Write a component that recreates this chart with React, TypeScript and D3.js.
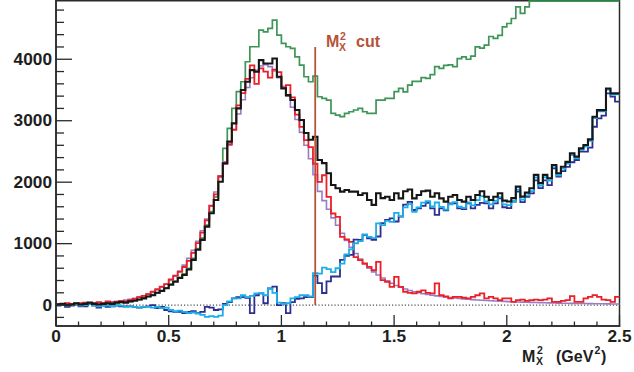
import React, { useMemo } from "react";
import * as d3 from "d3";

// histogram binning (0.02 GeV^2 bins from 0 to 2.5)
const binWidth = 0.02;
const xMin = 0;
const xMax = 2.5;
const yMin = -340;
const yMax = 4964;
const cutValue = 1.15;

const xTickLabels = ["0", "0.5", "1", "1.5", "2", "2.5"];
const yTickLabels = ["0", "1000", "2000", "3000", "4000"];

const blackHist = [
  10, 20, 0, 10, 30, 10, 20, 40, 20, 10,
  20, 30, 20, 40, 50, 40, 60, 70, 90, 110,
  140, 160, 200, 230, 273, 330, 380, 440, 490, 580,
  736, 900, 1061, 1277, 1495, 1711, 2008, 2307, 2659, 2957,
  3201, 3499, 3634, 3823, 3796, 3986, 3932, 3932, 4013, 3715,
  3526, 3417, 3336, 3174, 3011, 2800, 2690, 2740, 2361, 2310,
  2145, 1955, 1900, 1846, 1873, 1846, 1846, 1792, 1820, 1711,
  1630, 1820, 1740, 1764, 1710, 1820, 1737, 1853, 1880, 1737,
  1791, 1853, 1862, 1764, 1819, 1737, 1683, 1764, 1791, 1710,
  1683, 1764, 1710, 1791, 1853, 1764, 1710, 1764, 1819, 1700,
  1685, 1740, 1928, 1765, 1830, 1900, 2118, 1985, 2118, 2063,
  2280, 2145, 2250, 2330, 2470, 2415, 2550, 2605, 2697, 3065,
  3173, 3173, 3525, 3445, 3445,
];

const greenHist = [
  0, 20, 10, 20, 30, 20, 10, 30, 30, 20,
  30, 20, 30, 40, 40, 50, 60, 80, 90, 120,
  140, 170, 200, 240, 280, 340, 390, 450, 510, 600,
  760, 920, 1090, 1300, 1520, 1760, 2100, 2550, 2876, 3201,
  3472, 3634, 3959, 4203, 4203, 4474, 4447, 4501, 4636, 4393,
  4258, 4203, 4176, 4040, 3905, 3715, 3634, 3726, 3390, 3363,
  3336, 3119, 3092, 3065, 3119, 3146, 3174, 3201, 3146, 3119,
  3119, 3336, 3336, 3363, 3363, 3472, 3526, 3470, 3580, 3640,
  3640, 3700, 3690, 3750, 3880, 3850, 3900, 3910, 3880, 4010,
  4040, 4000, 4050, 4200, 4180, 4230, 4370, 4340, 4390, 4528,
  4582, 4663, 4853, 4745, 4853, 5020, 5080, 5150, 5210, 5260,
  5330, 5390, 5450, 5500, 5570, 5640, 5700, 5760, 5830, 5900,
  5960, 6030, 6100, 6160, 6220,
];

const redHist = [
  20, 10, 30, 20, 10, 30, 40, 20, 30, 50,
  30, 60, 40, 50, 70, 60, 80, 100, 130, 150,
  180, 220, 260, 300, 340, 420, 480, 540, 620, 720,
  850, 1010, 1180, 1380, 1620, 1800, 2100, 2300, 2620, 2850,
  3250, 3450, 3680, 3900, 3600, 3850, 3800, 3700, 3830, 3790,
  3530, 3580, 3380, 3100, 2900, 2685, 2570, 2300, 2004, 2113,
  1760, 1490, 1435, 1110, 1070, 1029, 780, 731, 677, 623,
  569, 704, 406, 379, 298, 460, 298, 217, 200, 190,
  217, 240, 200, 190, 352, 163, 140, 108, 135, 135,
  120, 108, 135, 160, 190, 108, 135, 108, 81, 108,
  108, 54, 81, 90, 70, 81, 90, 81, 90, 110,
  54, 54, 70, 80, 146, 54, 54, 108, 135, 163,
  135, 90, 81, 54, 135,
];

const purpleHist = [
  5, 8, 10, 12, 15, 18, 20, 24, 28, 32,
  38, 44, 52, 60, 70, 82, 96, 112, 130, 152,
  178, 208, 245, 290, 340, 400, 470, 555, 650, 760,
  890, 1040, 1210, 1400, 1610, 1840, 2080, 2330, 2600, 2860,
  3110, 3340, 3540, 3700, 3820, 3890, 3910, 3880, 3810, 3700,
  3560, 3400, 3220, 3020, 2810, 2600, 2380, 2120, 1850, 1700,
  1560, 1420, 1300, 1170, 1050, 940, 840, 750, 670, 600,
  540, 490, 440, 395, 355, 320, 290, 262, 238, 218,
  200, 185, 172, 160, 150, 140, 131, 123, 115, 108,
  101, 95, 89, 84, 79, 75, 71, 67, 63, 60,
  57, 54, 51, 48, 46, 44, 42, 40, 38, 36,
  34, 32, 31, 29, 28, 27, 26, 25, 24, 23,
  22, 21, 20, 19, 18,
];

const navyHist = [
  -10, 10, -30, -10, 20, -20, -20, 20, -10, -40,
  -10, -30, -20, -10, -20, -20, -20, -30, -40, -30,
  -20, 0, -50, -30, -80, -100, -110, -110, -130, -110,
  -100, -130, -110, -30, -40, -80, -70, 20, 50, 110,
  130, 130, 120, -130, 160, 190, 30, 270, 300, 0,
  30, -130, 50, 100, 110, 130, 130, 480, 357, 197,
  385, 465, 465, 736, 803, 817, 1066, 1061, 1143, 1088,
  1061, 1116, 1334, 1385, 1412, 1360, 1439, 1636, 1680, 1547,
  1574, 1613, 1662, 1574, 1467, 1574, 1543, 1656, 1656, 1575,
  1563, 1656, 1575, 1631, 1663, 1656, 1575, 1656, 1738, 1592,
  1577, 1686, 1847, 1675, 1760, 1819, 2028, 1904, 2028, 1953,
  2226, 2091, 2180, 2250, 2324, 2361, 2496, 2497, 2562, 2902,
  3038, 3083, 3444, 3391, 3310,
];

const cyanHist = [
  0, 10, -10, 0, 20, -10, 0, 20, 0, -20,
  -10, -10, -20, 0, -10, -30, -20, -30, -40, -30,
  -30, -40, -30, -50, -40, -80, -100, -90, -110, -130,
  -120, -140, -160, -190, -180, -190, -170, 0, 60, 110,
  110, 160, 130, 150, 190, 190, 160, 270, 200, 40,
  20, 30, 110, 130, 160, 160, 140, 520, 511, 610,
  585, 535, 600, 676, 823, 906, 1006, 1042, 1150, 1111,
  1090, 1330, 1300, 1369, 1355, 1500, 1447, 1591, 1642, 1519,
  1591, 1668, 1690, 1604, 1669, 1597, 1552, 1641, 1676, 1602,
  1582, 1669, 1621, 1707, 1774, 1689, 1639, 1697, 1756, 1640,
  1628, 1686, 1877, 1717, 1784, 1856, 2076, 1945, 2080, 2027,
  2246, 2113, 2219, 2301, 2442, 2388, 2524, 2580, 2673, 3042,
  3151, 3152, 3505, 3426, 3427,
];

const font = "'Liberation Sans', Arial, Helvetica, sans-serif";
const cutColor = "#b5533a";

export default function App() {
  const width = 634;
  const height = 372;
  const left = 56;
  const right = 619.5;
  const top = 0;
  const bottom = 326;

  const x = useMemo(() => d3.scaleLinear([xMin, xMax], [left, right]), []);
  const y = useMemo(() => d3.scaleLinear([yMin, yMax], [bottom, top]), []);

  const edges = d3.range(blackHist.length + 1).map((i) => xMin + i * binWidth);
  // like ROOT, values over the frame are drawn on the frame edge
  const clampY = (v: number) => Math.max(1.2, y(Math.max(yMin, Math.min(yMax, v))));

  const stepPath = (vals: number[]) => {
    const pts: [number, number][] = vals.map((v, i) => [x(edges[i]), clampY(v)]);
    pts.push([x(edges[vals.length]), clampY(vals[vals.length - 1])]);
    return d3.line().curve(d3.curveStepAfter)(pts) || "";
  };

  const series = [
    { vals: greenHist, color: "#3d9656", w: 1.7 },
    { vals: purpleHist, color: "#9a7cc4", w: 1.6 },
    { vals: redHist, color: "#ec1f26", w: 1.8 },
    { vals: navyHist, color: "#2c2f8f", w: 1.8 },
    { vals: cyanHist, color: "#1aaeea", w: 1.8 },
    { vals: blackHist, color: "#161616", w: 2.1 },
  ];

  const yMinor = d3.range(-200, 4801, 200);
  const xMinor = d3.range(0, 26).map((i) => i * 0.1);

  return (
    <svg
      width={width}
      height={height}
      style={{ position: "absolute", top: 0, left: 0, background: "#fff" }}
      fontFamily={font}
      fontWeight="bold"
    >
      <rect x={0} y={0} width={width} height={height} fill="#fff" />

      {/* frame */}
      <rect
        x={left}
        y={0.75}
        width={right - left}
        height={bottom - 0.75}
        fill="none"
        stroke="#2a2a2a"
        strokeWidth={1.5}
      />

      {/* zero line */}
      <line
        x1={x(xMin)}
        x2={x(xMax)}
        y1={y(0)}
        y2={y(0)}
        stroke="#222"
        strokeWidth={1}
        strokeDasharray="1.2,2"
      />

      <g fill="none" strokeLinejoin="miter">
        {series.map((s, i) => (
          <path key={i} d={stepPath(s.vals)} stroke={s.color} strokeWidth={s.w} />
        ))}
      </g>

      {/* cut */}
      <line
        x1={x(cutValue)}
        x2={x(cutValue)}
        y1={47}
        y2={y(0)}
        stroke={cutColor}
        strokeWidth={1.8}
      />
      <g fill={cutColor}>
        <text x={326} y={46.5} fontSize={16}>M</text>
        <text x={340} y={39.5} fontSize={10.5}>2</text>
        <text x={339} y={50.5} fontSize={10.5}>X</text>
        <text x={356} y={46.5} fontSize={16}>cut</text>
      </g>

      {/* axis lines on top of the histograms */}
      <g stroke="#2a2a2a" strokeWidth={1.5}>
        <line x1={left} x2={left} y1={0} y2={bottom} />
        <line x1={left} x2={right + 0.75} y1={bottom} y2={bottom} />
      </g>

      {/* ticks */}
      <g stroke="#2a2a2a" strokeWidth={1.3}>
        {yMinor.map((v) => (
          <line key={v} x1={left} x2={left + (v % 1000 === 0 ? 16 : 8)} y1={y(v)} y2={y(v)} />
        ))}
        {xMinor.map((v, i) => (
          <line key={i} x1={x(v)} x2={x(v)} y1={bottom} y2={bottom - (i % 5 === 0 ? 11 : 4.5)} />
        ))}
      </g>

      <g fill="#1e1e1e" fontSize={16}>
        {yTickLabels.map((t) => (
          <text
            key={t}
            textAnchor="end"
            transform={`translate(52,${y(+t) + 5.6}) scale(1.08,1)`}
          >
            {t}
          </text>
        ))}
        {xTickLabels.map((t) => (
          <text
            key={t}
            textAnchor="middle"
            transform={`translate(${x(+t)},342) scale(1.08,1)`}
          >
            {t}
          </text>
        ))}
      </g>

      {/* x title */}
      <g fill="#1e1e1e">
        <text x={522} y={361.5} fontSize={16}>M</text>
        <text x={537} y={353.5} fontSize={10.5}>2</text>
        <text x={536} y={364.5} fontSize={10.5}>X</text>
        <text x={556} y={361.5} fontSize={16}>(GeV</text>
        <text x={594.5} y={353.5} fontSize={10.5}>2</text>
        <text x={601} y={361.5} fontSize={16}>)</text>
      </g>
    </svg>
  );
}
